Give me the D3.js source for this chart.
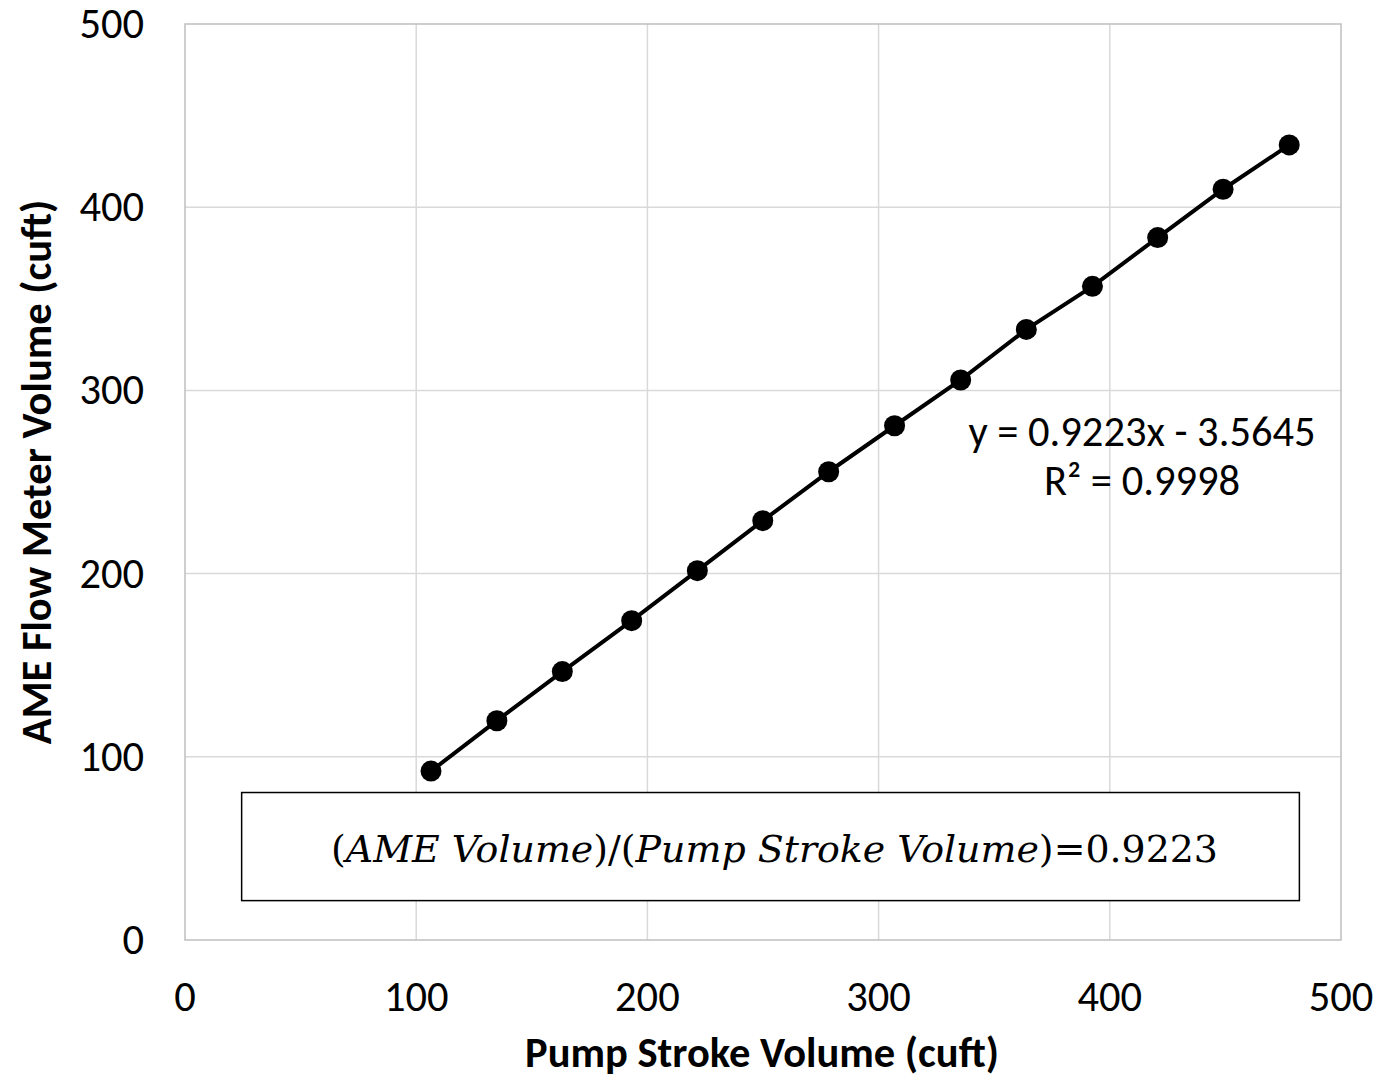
<!DOCTYPE html>
<html>
<head>
<meta charset="utf-8">
<script src="https://cdn.jsdelivr.net/npm/d3@7"></script>
<style>
  body { margin: 0; background: #fff; }
  text { font-family: Carlito, Lato, "Open Sans", sans-serif; fill: #000; }
</style>
</head>
<body>
<div id="chart"></div>
<script>
// data
const pumpVolume = [106.4, 134.9, 163.2, 193.2, 221.6, 249.9, 278.4, 306.9, 335.5, 363.9, 392.5, 420.7, 449.0, 477.6];
const ameVolume  = [92.2, 119.7, 146.5, 174.3, 201.6, 228.9, 255.6, 280.7, 305.7, 333.3, 356.8, 383.4, 409.8, 434.0];
const xTicks = [0, 100, 200, 300, 400, 500];
const yTicks = [0, 100, 200, 300, 400, 500];
const equationLines = ["y = 0.9223x - 3.5645", "R² = 0.9998"];
const ratioParts = [
    { t: "(", italic: false },
    { t: "AME Volume", italic: true },
    { t: ")/(", italic: false },
    { t: "Pump Stroke Volume", italic: true },
    { t: ")=0.9223", italic: false }
];

const width = 1379, height = 1077;
const margin = { top: 24, right: 38, bottom: 137, left: 185 };
const innerW = width - margin.left - margin.right;
const innerH = height - margin.top - margin.bottom;

const svg = d3.select('#chart').append('svg')
    .attr('width', width)
    .attr('height', height);

const viz = svg.append('g')
    .attr('transform', `translate(${margin.left},${margin.top})`);

const xScale = d3.scaleLinear().domain([0, 500]).range([0, innerW]);
const yScale = d3.scaleLinear().domain([0, 500]).range([innerH, 0]);

// gridlines
viz.append('g')
    .selectAll('line')
    .data(xTicks.slice(1, -1))
    .join('line')
    .attr('x1', d => xScale(d)).attr('x2', d => xScale(d))
    .attr('y1', 0).attr('y2', innerH)
    .attr('stroke', '#d9d9d9').attr('stroke-width', 1.5);

viz.append('g')
    .selectAll('line')
    .data(yTicks.slice(1, -1))
    .join('line')
    .attr('x1', 0).attr('x2', innerW)
    .attr('y1', d => yScale(d)).attr('y2', d => yScale(d))
    .attr('stroke', '#d9d9d9').attr('stroke-width', 1.5);

// plot frame
viz.append('rect')
    .attr('x', 0).attr('y', 0)
    .attr('width', innerW).attr('height', innerH)
    .attr('fill', 'none')
    .attr('stroke', '#bfbfbf').attr('stroke-width', 1.5);

// tick labels
viz.append('g')
    .selectAll('text')
    .data(xTicks)
    .join('text')
    .attr('x', d => xScale(d))
    .attr('y', innerH + 71)
    .attr('text-anchor', 'middle')
    .style('font-size', '42.5px')
    .text(d => d);

viz.append('g')
    .selectAll('text')
    .data(yTicks)
    .join('text')
    .attr('x', -41)
    .attr('y', d => yScale(d) + 14)
    .attr('text-anchor', 'end')
    .style('font-size', '42.5px')
    .text(d => d);

// axis titles
svg.append('text')
    .attr('x', 762)
    .attr('y', 1067)
    .attr('text-anchor', 'middle')
    .style('font-size', '42.5px')
    .style('font-weight', 'bold')
    .text('Pump Stroke Volume (cuft)');

svg.append('text')
    .attr('transform', 'translate(51,472) rotate(-90)')
    .attr('text-anchor', 'middle')
    .style('font-size', '42.5px')
    .style('font-weight', 'bold')
    .text('AME Flow Meter Volume (cuft)');

// ratio box
const box = viz.append('g');
box.append('rect')
    .attr('x', xScale(24.5)).attr('y', yScale(80.5))
    .attr('width', xScale(482) - xScale(24.5))
    .attr('height', yScale(21.5) - yScale(80.5))
    .attr('fill', '#fff')
    .attr('stroke', '#000').attr('stroke-width', 1.5);

box.append('text')
    .attr('x', (xScale(24.5) + xScale(482)) / 2 + 4)
    .attr('y', yScale(51) + 15)
    .attr('text-anchor', 'middle')
    .style('font-family', '"DejaVu Serif", "Liberation Serif", serif')
    .style('font-size', '37.9px')
    .selectAll('tspan')
    .data(ratioParts)
    .join('tspan')
    .style('font-style', d => d.italic ? 'italic' : 'normal')
    .text(d => d.t);

// series
const points = pumpVolume.map((x, i) => ({ x, y: ameVolume[i] }));

const lineGenerator = d3.line()
    .x(d => xScale(d.x))
    .y(d => yScale(d.y));

viz.append('path')
    .datum(points)
    .attr('d', lineGenerator)
    .attr('fill', 'none')
    .attr('stroke', '#000')
    .attr('stroke-width', 4);

viz.append('g')
    .selectAll('circle')
    .data(points)
    .join('circle')
    .attr('cx', d => xScale(d.x))
    .attr('cy', d => yScale(d.y))
    .attr('r', 10.5)
    .attr('fill', '#000');

// trendline label
viz.append('g')
    .selectAll('text')
    .data(equationLines)
    .join('text')
    .attr('x', 957)
    .attr('y', (d, i) => 422 + i * 49)
    .attr('text-anchor', 'middle')
    .style('font-size', '42.5px')
    .text(d => d);
</script>
</body>
</html>
